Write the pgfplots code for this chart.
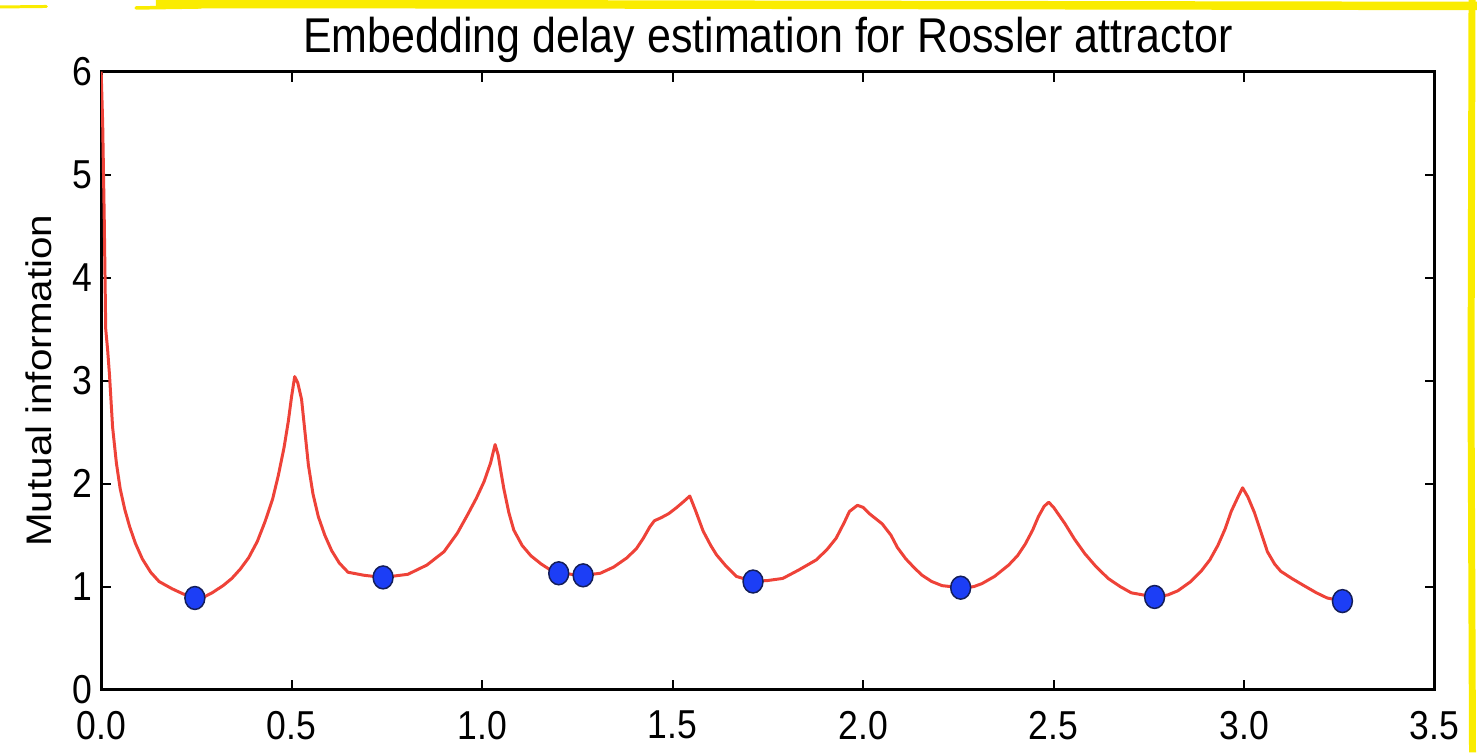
\documentclass[border=0pt]{standalone}
\usepackage{fontspec}
\setmainfont{Liberation Sans}[FakeStretch=0.88]
\newfontfamily\plainsans{Liberation Sans}
\usepackage{graphicx}
\usepackage{pgfplots}
\usepackage{pgfplotstable}
\pgfplotsset{compat=1.18}

\definecolor{curvered}{RGB}{238,66,56}
\definecolor{dotblue}{RGB}{28,62,246}
\definecolor{dotedge}{RGB}{20,30,90}
\definecolor{marker}{RGB}{250,236,0}

% mutual information vs delay
\pgfplotstableread{
x y
0.000 6.00
0.004 5.50
0.008 4.60
0.012 3.50
0.017 3.30
0.022 3.05
0.030 2.55
0.040 2.20
0.050 1.95
0.062 1.75
0.075 1.58
0.090 1.42
0.108 1.27
0.130 1.14
0.152 1.05
0.186 0.98
0.215 0.93
0.246 0.89
0.270 0.90
0.291 0.94
0.320 1.01
0.343 1.08
0.365 1.17
0.387 1.28
0.410 1.44
0.430 1.63
0.450 1.85
0.465 2.08
0.480 2.35
0.491 2.60
0.500 2.85
0.508 3.04
0.516 2.98
0.526 2.82
0.535 2.50
0.544 2.18
0.556 1.90
0.570 1.68
0.587 1.50
0.605 1.35
0.625 1.23
0.648 1.14
0.691 1.11
0.740 1.09
0.805 1.12
0.855 1.21
0.900 1.34
0.935 1.52
0.962 1.70
0.985 1.86
1.005 2.02
1.022 2.20
1.034 2.38
1.042 2.28
1.050 2.10
1.057 1.95
1.070 1.72
1.083 1.55
1.105 1.40
1.128 1.30
1.155 1.22
1.180 1.16
1.201 1.13
1.235 1.12
1.265 1.11
1.310 1.13
1.345 1.19
1.380 1.28
1.405 1.37
1.423 1.47
1.440 1.58
1.452 1.64
1.470 1.67
1.490 1.71
1.511 1.77
1.530 1.83
1.545 1.88
1.560 1.74
1.580 1.54
1.600 1.40
1.615 1.31
1.640 1.20
1.667 1.10
1.711 1.05
1.750 1.06
1.789 1.08
1.830 1.16
1.877 1.26
1.905 1.36
1.929 1.47
1.950 1.62
1.964 1.73
1.985 1.79
2.000 1.77
2.016 1.71
2.050 1.61
2.073 1.50
2.090 1.38
2.112 1.27
2.135 1.18
2.155 1.11
2.180 1.05
2.207 1.01
2.256 0.99
2.290 1.00
2.312 1.03
2.345 1.10
2.382 1.21
2.405 1.30
2.425 1.41
2.445 1.55
2.460 1.68
2.475 1.78
2.487 1.82
2.500 1.77
2.530 1.61
2.555 1.46
2.582 1.32
2.610 1.20
2.643 1.08
2.675 1.00
2.704 0.94
2.765 0.90
2.800 0.92
2.826 0.96
2.860 1.05
2.887 1.15
2.910 1.26
2.931 1.40
2.950 1.56
2.966 1.73
2.985 1.88
2.996 1.96
3.010 1.87
3.027 1.72
3.045 1.52
3.061 1.34
3.080 1.22
3.096 1.15
3.125 1.08
3.157 1.01
3.190 0.94
3.218 0.89
3.258 0.86
}\curve

% local minima
\pgfplotstableread{
x y
0.246 0.89
0.740 1.09
1.201 1.13
1.265 1.11
1.711 1.05
2.256 0.99
2.765 0.90
3.258 0.86
}\minima

\begin{document}
\begin{tikzpicture}
  \path[use as bounding box] (-40.6pt,-25.2pt) rectangle (552.2pt,276.8pt);
  \begin{axis}[
    at={(0,0)}, anchor=south west,
    scale only axis,
    width=535.2pt, height=248pt,
    xmin=0, xmax=3.5, ymin=0, ymax=6,
    xtick={0,0.5,1,1.5,2,2.5,3,3.5},
    ytick={0,1,2,3,4,5,6},
    /pgf/number format/assume math mode=true,
    xticklabel style={/pgf/number format/.cd, fixed, fixed zerofill, precision=1, /tikz/.cd, inner sep=1pt, yshift=-7.4pt},
    tick label style={font=\fontsize{16.2}{18}\selectfont},
    axis line style={line width=1.3pt, black},
    tick style={line width=0.8pt, black},
    major tick length=4pt,
    title={Embedding delay estimation for Rossler attractor},
    title style={font=\fontsize{19.6}{22}\selectfont, at={(0.5,1)}, anchor=base, yshift=1.6pt},
    ylabel={\scalebox{1}[0.88]{\plainsans\fontsize{16.2}{18}\selectfont Mutual information}},
    ylabel style={at={(axis description cs:-0.047,0.5)}, anchor=center},
  ]
    \addplot[color=curvered, line width=1.2pt, line join=round, no markers] table {\curve};
    \addplot[only marks, mark=*, mark size=4.6pt,
      mark options={fill=dotblue, draw=dotedge, line width=0.6pt, xscale=0.87}] table {\minima};
  \end{axis}
  % yellow highlighter strokes on the page edges
  \draw[marker, line width=1.2pt, line cap=round] (-40.6pt,274pt) -- (-22pt,274.2pt);
  \draw[marker, line width=1.4pt, line cap=round] (14pt,273.6pt) -- (40pt,274pt);
  \draw[marker, line width=3.4pt] (22pt,275.2pt) -- (200pt,275pt) -- (552.2pt,274.4pt);
  \draw[marker, line width=2.8pt] (550.2pt,276.8pt) -- (549.8pt,120pt) -- (550.4pt,-25.2pt);
\end{tikzpicture}
\end{document}
